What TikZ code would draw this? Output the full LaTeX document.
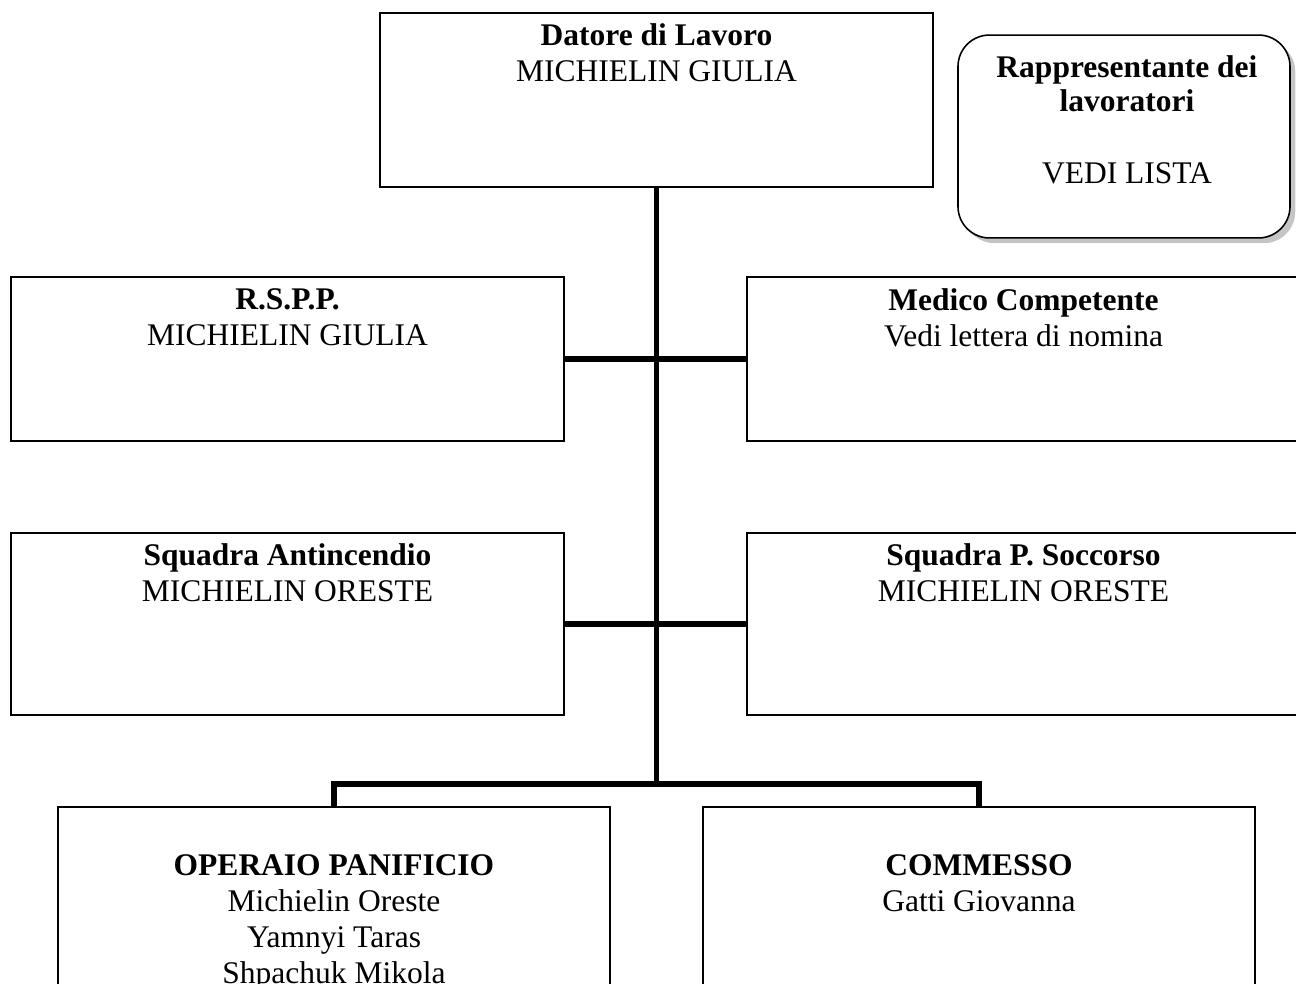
\documentclass[tikz,border=0pt]{standalone}
\usepackage{fontspec}
\setmainfont{Liberation Serif}
\usepackage{tikz}
\usetikzlibrary{shadows}

\begin{document}
\begin{tikzpicture}[x=0.381pt,y=-0.381pt,
    orgbox/.style={draw,line width=0.8pt,rectangle,inner sep=0pt,outer sep=0pt,minimum width=210.7pt},
    boxtext/.style={anchor=north,align=center,inner sep=0pt,font=\fontsize{12}{13.7}\selectfont},
    link/.style={line width=2.1pt}]
    \useasboundingbox (0,0) rectangle (1296,984);
    \clip (0,0) rectangle (1296,984);

    % Datore di Lavoro
    \node[orgbox,minimum height=66.3pt] (dat) at (656.5,100) {};
    \node[boxtext] (datT) at (656.5,23) {\textbf{Datore di Lavoro}\\MICHIELIN GIULIA};

    % Rappresentante dei lavoratori
    \node[draw,line width=0.6pt,rounded corners=12pt,fill=white,inner sep=0pt,
        minimum width=126.5pt,minimum height=77.3pt,
        drop shadow={shadow xshift=2pt,shadow yshift=-2pt,fill=black!45}] (rap) at (1124,136.5) {};
    \node[boxtext,font=\fontsize{12}{13}\selectfont] (rapT) at (1127,55)
        {\textbf{Rappresentante dei}\\\textbf{lavoratori}\\[14.5pt]VEDI LISTA};

    % R.S.P.P. / Medico
    \node[orgbox,minimum height=62.5pt] (rspp) at (287.5,359) {};
    \node[boxtext] (rsppT) at (287.5,288) {\textbf{R.S.P.P.}\\MICHIELIN GIULIA};
    \node[orgbox,minimum height=62.5pt] (med) at (1023.5,359) {};
    \node[boxtext] (medT) at (1023.5,288) {\textbf{Medico Competente}\\Vedi lettera di nomina};

    % Squadre
    \node[orgbox,minimum height=69.3pt] (ant) at (287.5,624) {};
    \node[boxtext] (antT) at (287.5,543) {\textbf{Squadra Antincendio}\\MICHIELIN ORESTE};
    \node[orgbox,minimum height=69.3pt] (soc) at (1023.5,624) {};
    \node[boxtext] (socT) at (1023.5,543) {\textbf{Squadra P. Soccorso}\\MICHIELIN ORESTE};

    % Lavoratori
    \node[orgbox,minimum width=210.3pt,minimum height=76.2pt] (op) at (334,907) {};
    \node[boxtext] (opT) at (334,854)
        {\textbf{OPERAIO PANIFICIO}\\Michielin Oreste\\Yamnyi Taras\\Shpachuk Mikola};
    \node[orgbox,minimum width=210.3pt,minimum height=76.2pt] (com) at (979,907) {};
    \node[boxtext] (comT) at (979,854) {\textbf{COMMESSO}\\Gatti Giovanna};

    % Collegamenti
    \coordinate (junc) at (656.5,784);
    \draw[link] (dat.south) -- (junc);
    \draw[link] (rspp.east) -- (med.west);
    \draw[link] (ant.east) -- (soc.west);
    \draw[link] (op.north) |- (junc) -| (com.north);
\end{tikzpicture}
\end{document}
